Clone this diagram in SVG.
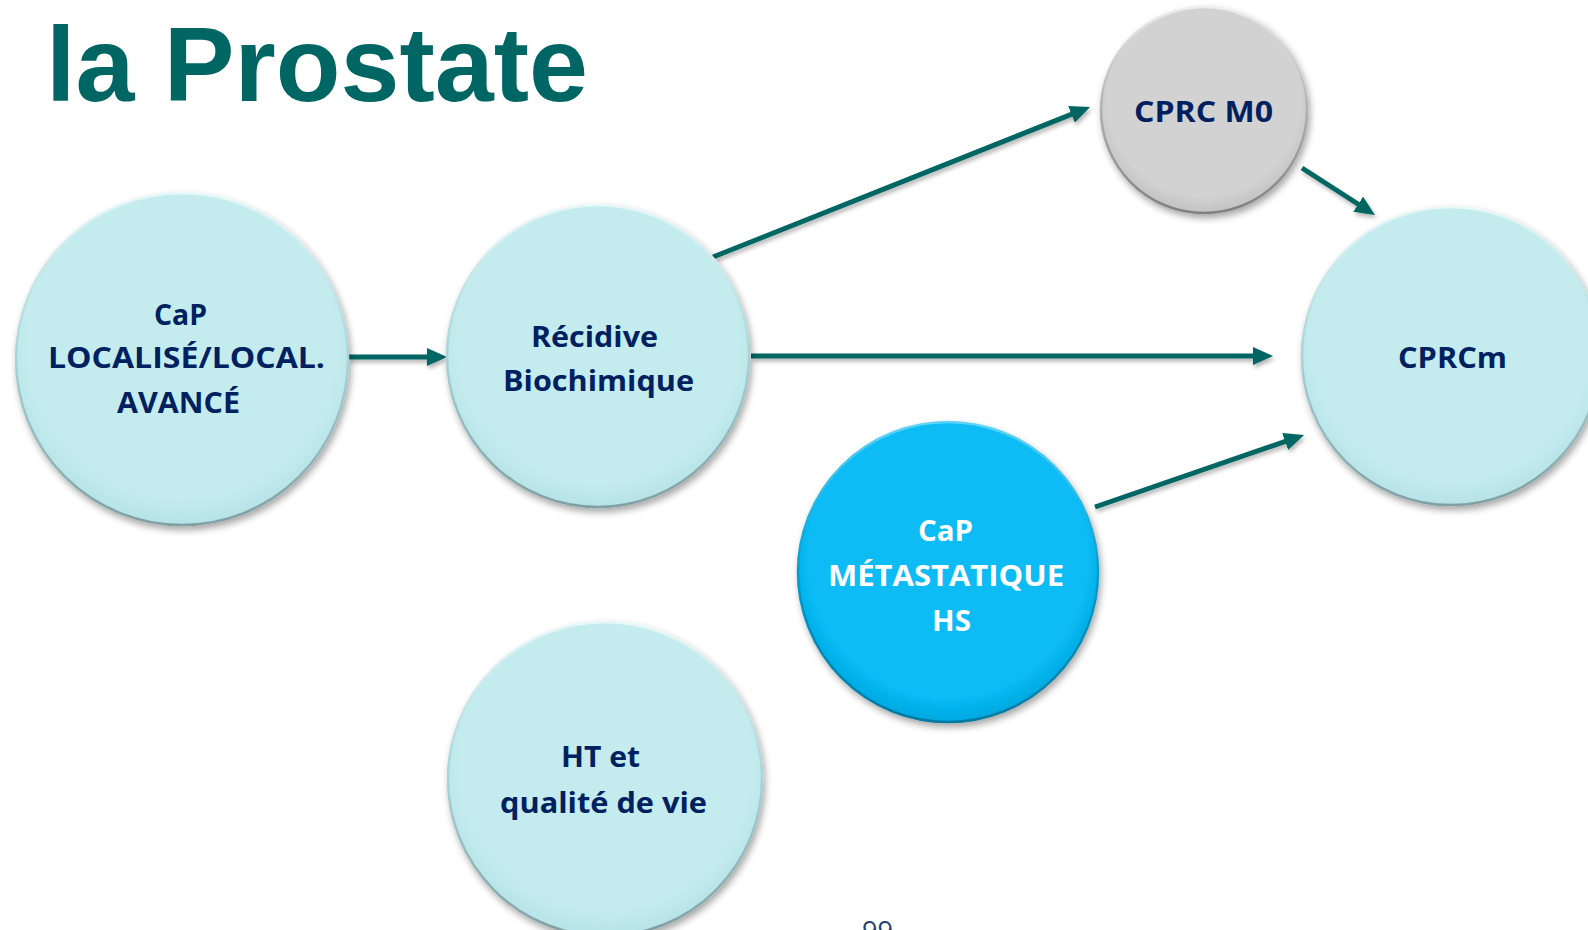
<svg xmlns="http://www.w3.org/2000/svg" width="1588" height="930" viewBox="0 0 1588 930">
<defs>
<style>
.lbl{font-family:"Open Sans","Liberation Sans",sans-serif;font-weight:bold;font-size:28px;fill:#002060}
.wlbl{fill:#ffffff}
.title{font-family:"Liberation Sans",Arial,sans-serif;font-weight:bold;font-size:106px;fill:#006663}
.cyan{fill:url(#gCyan);stroke:url(#rim);stroke-width:2.5}
.gray{fill:url(#gGray);stroke:url(#rimG);stroke-width:2.5}
.blue{fill:url(#gBlue);stroke:url(#rimB);stroke-width:2.5}
.conn line{stroke:#006663;stroke-width:5;fill:none;marker-end:url(#ah)}
</style>
<radialGradient id="gCyan" cx="0.5" cy="0.45" r="0.55">
<stop offset="0.85" stop-color="#C4ECEF"/>
<stop offset="1" stop-color="#B6E2E6"/>
</radialGradient>
<radialGradient id="gGray" cx="0.5" cy="0.45" r="0.55">
<stop offset="0.85" stop-color="#D2D2D2"/>
<stop offset="1" stop-color="#C2C2C2"/>
</radialGradient>
<radialGradient id="gBlue" cx="0.5" cy="0.45" r="0.55">
<stop offset="0.85" stop-color="#07BBF5"/>
<stop offset="1" stop-color="#05A8DE"/>
</radialGradient>
<linearGradient id="rim" x1="0" y1="0" x2="0" y2="1">
<stop offset="0" stop-color="#E8F8F9"/>
<stop offset="0.5" stop-color="#A9D3D6"/>
<stop offset="1" stop-color="#7F9FA2"/>
</linearGradient>
<linearGradient id="rimG" x1="0" y1="0" x2="0" y2="1">
<stop offset="0" stop-color="#EEEEEE"/>
<stop offset="0.5" stop-color="#B0B0B0"/>
<stop offset="1" stop-color="#808080"/>
</linearGradient>
<linearGradient id="rimB" x1="0" y1="0" x2="0" y2="1">
<stop offset="0" stop-color="#5FD4F8"/>
<stop offset="0.5" stop-color="#049CCF"/>
<stop offset="1" stop-color="#037AA2"/>
</linearGradient>
<filter id="sh" x="-20%" y="-20%" width="140%" height="140%">
<feDropShadow dx="2" dy="4" stdDeviation="3.5" flood-color="#000" flood-opacity="0.35"/>
</filter>
<filter id="ash" x="-10%" y="-50%" width="120%" height="200%">
<feDropShadow dx="1.5" dy="3" stdDeviation="2" flood-color="#000" flood-opacity="0.3"/>
</filter>
<marker id="ah" markerUnits="userSpaceOnUse" viewBox="0 0 20 18" refX="8" refY="9" markerWidth="20" markerHeight="18" orient="auto">
<path d="M0,0 L20,9 L0,18 Z" fill="#006663"/>
</marker>
</defs>
<rect width="1588" height="930" fill="#ffffff"/>
<text class="title" x="46" y="101">la Prostate</text>
<g class="conn" filter="url(#ash)">
<line x1="348" y1="357" x2="435" y2="357"/>
<line x1="713" y1="257" x2="1078.9" y2="111.4"/>
<line x1="751" y1="356" x2="1261" y2="356"/>
<line x1="1302" y1="168" x2="1364.9" y2="208.5"/>
<line x1="1095" y1="507" x2="1292.7" y2="438.9"/>
</g>
<g id="node-localise">
<circle class="cyan" cx="182" cy="359" r="166" filter="url(#sh)"/>
<text class="lbl" x="154" y="325" textLength="53" lengthAdjust="spacingAndGlyphs">CaP</text>
<text class="lbl" x="48" y="368" textLength="277" lengthAdjust="spacingAndGlyphs">LOCALISÉ/LOCAL.</text>
<text class="lbl" x="117" y="413" textLength="123" lengthAdjust="spacingAndGlyphs">AVANCÉ</text>
</g>
<g id="node-recidive">
<circle class="cyan" cx="598" cy="356" r="151" filter="url(#sh)"/>
<text class="lbl" x="531" y="347" textLength="127" lengthAdjust="spacingAndGlyphs">Récidive</text>
<text class="lbl" x="503" y="391" textLength="191" lengthAdjust="spacingAndGlyphs">Biochimique</text>
</g>
<g id="node-cprc-m0">
<circle class="gray" cx="1204" cy="110" r="103" filter="url(#sh)"/>
<text class="lbl" x="1134" y="122" textLength="139" lengthAdjust="spacingAndGlyphs">CPRC M0</text>
</g>
<g id="node-cprcm">
<circle class="cyan" cx="1451" cy="356" r="149" filter="url(#sh)"/>
<text class="lbl" x="1398" y="368" textLength="109" lengthAdjust="spacingAndGlyphs">CPRCm</text>
</g>
<g id="node-metastatique">
<circle class="blue" cx="948" cy="572" r="150" filter="url(#sh)"/>
<text class="lbl wlbl" x="918" y="541" textLength="55" lengthAdjust="spacingAndGlyphs">CaP</text>
<text class="lbl wlbl" x="828" y="586" textLength="236" lengthAdjust="spacingAndGlyphs">MÉTASTATIQUE</text>
<text class="lbl wlbl" x="932" y="631" textLength="39" lengthAdjust="spacingAndGlyphs">HS</text>
</g>
<g id="node-ht">
<circle class="cyan" cx="605" cy="779" r="157" filter="url(#sh)"/>
<text class="lbl" x="561" y="767" textLength="79" lengthAdjust="spacingAndGlyphs">HT et</text>
<text class="lbl" x="500" y="813" textLength="207" lengthAdjust="spacingAndGlyphs">qualité de vie</text>
</g>
<text x="862" y="941" font-family="Open Sans, Liberation Sans, sans-serif" font-size="28" fill="#1F3F6E" textLength="31" lengthAdjust="spacingAndGlyphs">99</text>
</svg>
